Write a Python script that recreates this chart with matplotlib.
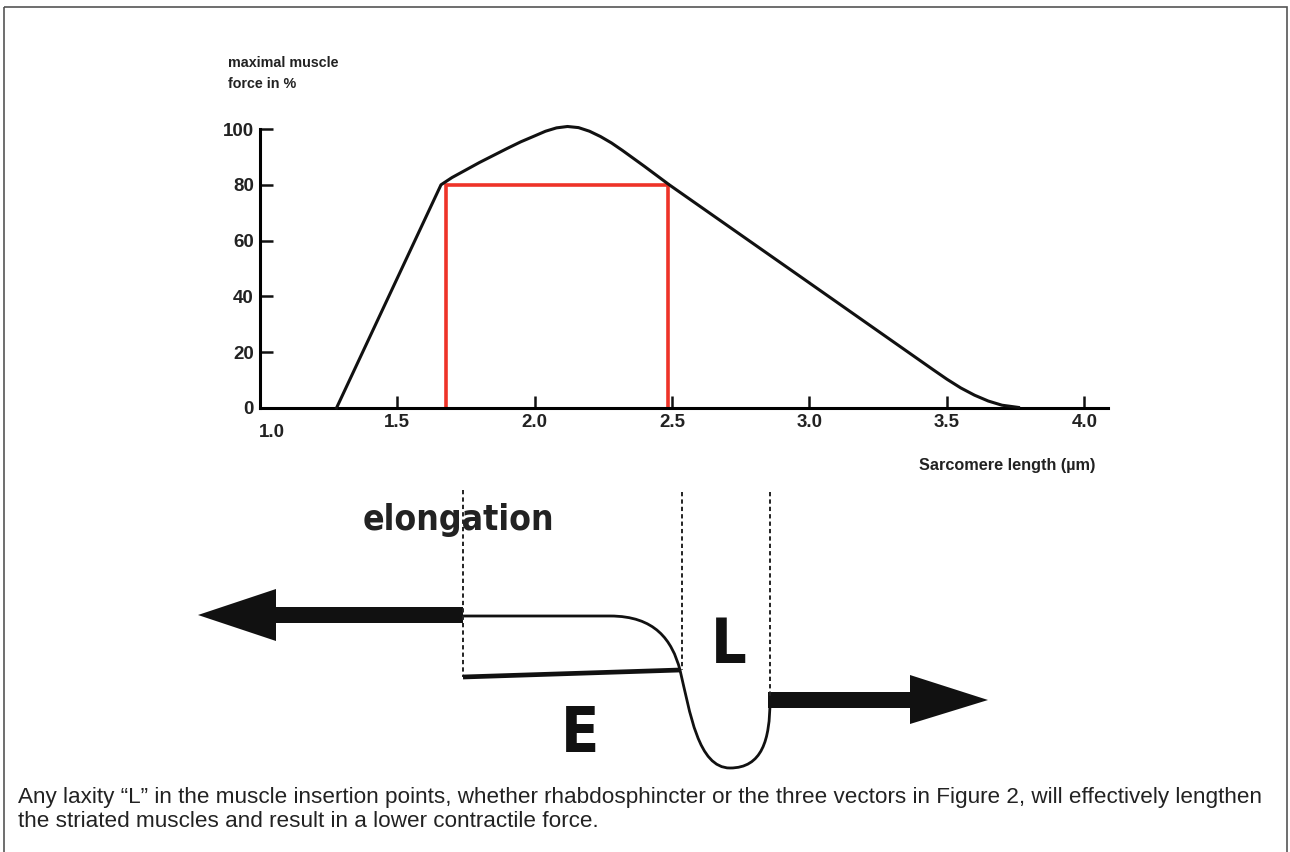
import matplotlib
matplotlib.use("Agg")
import matplotlib.pyplot as plt
from matplotlib import font_manager as fm
from matplotlib.patches import Polygon, Rectangle, PathPatch
from matplotlib.path import Path
from matplotlib.transforms import ScaledTranslation

# force-length curve (sarcomere length in um, force in %)
length_um = [1.28, 1.66, 1.70, 1.75, 1.80, 1.85, 1.90, 1.95, 2.00, 2.04, 2.08, 2.12,
             2.16, 2.20, 2.24, 2.28, 2.32, 2.40, 2.49, 3.00, 3.45, 3.50, 3.55,
             3.60, 3.65, 3.70, 3.76]
force_pct = [0, 80, 82.6, 85.3, 88.0, 90.5, 93.0, 95.4, 97.5, 99.2, 100.4, 100.9,
             100.5, 99.2, 97.3, 95.0, 92.3, 86.6, 80, 44.8, 13.7, 10.3, 7.2,
             4.6, 2.5, 1.0, 0.2]

# red optimum window
window_x = [1.678, 2.485]
window_y = 80

x_ticks = [1.0, 1.5, 2.0, 2.5, 3.0, 3.5, 4.0]
x_labels = ["1.0", "1.5", "2.0", "2.5", "3.0", "3.5", "4.0"]
y_ticks = [0, 20, 40, 60, 80, 100]
y_labels = ["0", "20", "40", "60", "80", "100"]

caption = ["Any laxity \u201cL\u201d in the muscle insertion points, whether rhabdosphincter or the three vectors in Figure 2, will effectively lengthen",
           "the striated muscles and result in a lower contractile force."]

# schematic below the chart, in pixel units of the picture
left_arrow = [(198, 615), (276, 589), (276, 607), (463, 607), (463, 623), (276, 623), (276, 641)]
right_arrow = [(988, 700), (910, 675), (910, 692), (768, 692), (768, 708), (910, 708), (910, 724)]
guides = [(463, 490, 677), (682, 492, 670), (770, 492, 697)]
muscle_line = [(463, 677), (680, 670)]


def narrow_bold(size):
    # look for a condensed bold face, else plain bold sans
    best = None
    for f in fm.fontManager.ttflist:
        w = f.weight if isinstance(f.weight, int) else (700 if "bold" in str(f.weight).lower() else 400)
        narrowish = ("Narrow" in f.name or "Condensed" in f.name or
                     str(f.stretch) in ("condensed", "semi-condensed", "extra-condensed"))
        if narrowish and w >= 600:
            if "Liberation" in f.name:
                return fm.FontProperties(fname=f.fname, size=size)
            best = best or f.fname
    if best:
        return fm.FontProperties(fname=best, size=size)
    return fm.FontProperties(family="Roboto", weight="bold", size=size * 0.85)


W, H = 1290, 852
fig = plt.figure(figsize=(W / 100, H / 100), dpi=100)
fig.patch.set_facecolor("white")

# background axes in pixel coordinates for the schematic and frame
bg = fig.add_axes([0, 0, 1, 1])
bg.set_xlim(0, W)
bg.set_ylim(H, 0)
bg.axis("off")

bg.add_patch(Rectangle((4, 7), 1283, 860, fill=False, edgecolor="#555555", lw=1.2))

bg.add_patch(Polygon(left_arrow, closed=True, facecolor="#111111", edgecolor="none"))
bg.add_patch(Polygon(right_arrow, closed=True, facecolor="#111111", edgecolor="none"))

for gx, g0, g1 in guides:
    bg.plot([gx, gx], [g0, g1], color="#222222", lw=1.4, ls=(0, (2.2, 1.6)))

mx, my = zip(*muscle_line)
bg.plot(mx, my, color="#111111", lw=3.4, solid_capstyle="butt")

verts = [(463, 616), (610, 616),
         (655, 616), (672, 640), (680, 670),
         (690, 712), (698, 768), (730, 768),
         (762, 768), (770, 740), (770, 700)]
codes = [Path.MOVETO, Path.LINETO,
         Path.CURVE4, Path.CURVE4, Path.CURVE4,
         Path.CURVE4, Path.CURVE4, Path.CURVE4,
         Path.CURVE4, Path.CURVE4, Path.CURVE4]
bg.add_patch(PathPatch(Path(verts, codes), fill=False, edgecolor="#111111", lw=2.0))

bg.text(363, 530, "elongation", fontproperties=narrow_bold(25.5),
        color="#222222", ha="left", va="baseline")
bg.text(729, 663, "L", fontproperties=narrow_bold(45),
        color="#111111", ha="center", va="baseline")
bg.text(580, 752, "E", fontproperties=narrow_bold(45),
        color="#111111", ha="center", va="baseline")

bg.text(18, 803, caption[0], fontsize=16.2, family="Liberation Sans", color="#222222",
        ha="left", va="baseline")
bg.text(18, 827, caption[1], fontsize=16.2, family="Liberation Sans", color="#222222",
        ha="left", va="baseline")

bg.text(228, 67, "maximal muscle", fontsize=10.3, fontweight="bold",
        family="Liberation Sans", color="#222222", ha="left", va="baseline")
bg.text(228, 88, "force in %", fontsize=10.3, fontweight="bold",
        family="Liberation Sans", color="#222222", ha="left", va="baseline")
bg.text(1095, 470, "Sarcomere length (\u00b5m)", fontsize=11.7, fontweight="bold",
        family="Liberation Sans", color="#222222", ha="right", va="baseline")

# force-length chart
x0, x1 = 259.5, 1108
y0, y1 = 408, 129
ax = fig.add_axes([x0 / W, (H - y0) / H, (x1 - x0) / W, (y0 - y1) / H])
ax.patch.set_alpha(0)
ax.set_xlim(1.0, 1.0 + (x1 - x0) / 275.0)
ax.set_ylim(0, 100)

ax.plot(length_um, force_pct, color="#111111", lw=2.2, clip_on=False,
        solid_joinstyle="round", zorder=3)
ax.plot([window_x[0], window_x[0], window_x[1], window_x[1]],
        [0, window_y, window_y, 0], color="#ee3328", lw=2.6, zorder=2,
        solid_joinstyle="miter")

for s in ["top", "right"]:
    ax.spines[s].set_visible(False)
ax.spines["left"].set_linewidth(2.2)
ax.spines["bottom"].set_linewidth(2.2)
ax.spines["left"].set_bounds(0, 100)

ax.set_xticks(x_ticks)
ax.set_xticklabels(x_labels)
ax.set_yticks(y_ticks)
ax.set_yticklabels(y_labels)
ax.tick_params(axis="both", direction="in", length=9, width=1.8, color="#111111",
               labelsize=13.5, labelcolor="#222222")
ax.tick_params(axis="x", pad=4)
ax.tick_params(axis="y", pad=4)
for lbl in ax.get_xticklabels() + ax.get_yticklabels():
    lbl.set_fontweight("bold")
    lbl.set_family("Liberation Sans")
first = ax.get_xticklabels()[0]
first.set_transform(first.get_transform() + ScaledTranslation(0.12, -0.1, fig.dpi_scale_trans))

fig.savefig("out.png", dpi=100, facecolor="white")
